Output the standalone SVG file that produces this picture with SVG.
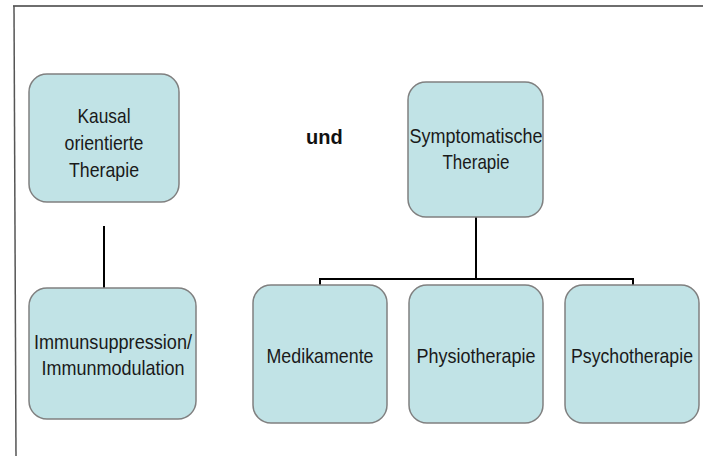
<svg xmlns="http://www.w3.org/2000/svg" width="703" height="456" viewBox="0 0 703 456">
<defs>
<style>
.box{fill:#c1e3e6;stroke:#808080;stroke-width:1.5}
.t{font-family:"Liberation Sans",Arial,sans-serif;font-size:21px;fill:#1a1a1a;text-anchor:middle}
.und{font-family:"Liberation Sans",Arial,sans-serif;font-size:20px;font-weight:bold;fill:#111}
.c{stroke:#000;stroke-width:2;fill:none}
</style>
</defs>
<rect x="0" y="0" width="703" height="456" fill="#fff"/>
<line x1="13" y1="6" x2="703" y2="6" stroke="#6e6e6e" stroke-width="2"/>
<line x1="14" y1="6" x2="16" y2="456" stroke="#555" stroke-width="1.5"/>
<g id="connectors">
<line class="c" x1="104" y1="226" x2="104" y2="288"/>
<line class="c" x1="476" y1="217" x2="476" y2="279"/>
<polyline class="c" points="320,285 320,279 633,279 633,285"/>
</g>
<g id="kausal">
<rect class="box" x="29" y="74" width="150" height="128" rx="18"/>
<text class="t" x="104" y="123" textLength="53" lengthAdjust="spacingAndGlyphs">Kausal</text>
<text class="t" x="104" y="150" textLength="79" lengthAdjust="spacingAndGlyphs">orientierte</text>
<text class="t" x="104" y="177" textLength="70" lengthAdjust="spacingAndGlyphs">Therapie</text>
</g>
<g id="immun">
<rect class="box" x="29" y="288" width="167" height="131" rx="18"/>
<text class="t" x="113" y="349" textLength="158" lengthAdjust="spacingAndGlyphs">Immunsuppression/</text>
<text class="t" x="113" y="375" textLength="143" lengthAdjust="spacingAndGlyphs">Immunmodulation</text>
</g>
<g id="und">
<text class="und" x="306" y="144">und</text>
</g>
<g id="symptom">
<rect class="box" x="408" y="82" width="135" height="135" rx="18"/>
<text class="t" x="476" y="143" textLength="133" lengthAdjust="spacingAndGlyphs">Symptomatische</text>
<text class="t" x="476" y="169" textLength="67" lengthAdjust="spacingAndGlyphs">Therapie</text>
</g>
<g id="medikamente">
<rect class="box" x="253" y="285" width="134" height="138" rx="18"/>
<text class="t" x="320" y="363" textLength="107" lengthAdjust="spacingAndGlyphs">Medikamente</text>
</g>
<g id="physio">
<rect class="box" x="409" y="285" width="134" height="138" rx="18"/>
<text class="t" x="476" y="363" textLength="119" lengthAdjust="spacingAndGlyphs">Physiotherapie</text>
</g>
<g id="psycho">
<rect class="box" x="565" y="285" width="134" height="138" rx="18"/>
<text class="t" x="632" y="363" textLength="122" lengthAdjust="spacingAndGlyphs">Psychotherapie</text>
</g>
</svg>
